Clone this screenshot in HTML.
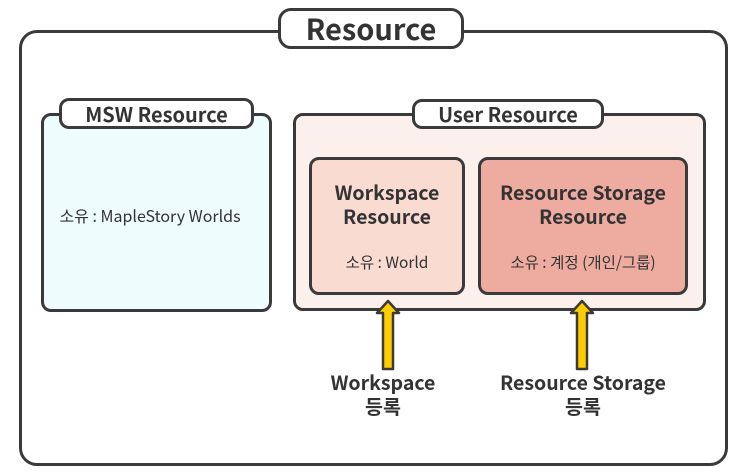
<!DOCTYPE html>
<html><head><meta charset="utf-8"><style>
body{margin:0;width:750px;height:476px;background:#fff;position:relative;overflow:hidden;font-family:"Noto Sans CJK KR","Liberation Sans",sans-serif;color:#333}
.b{position:absolute;box-sizing:border-box;border:3px solid #3a3a3a}
.pill{position:absolute;box-sizing:border-box;border:3px solid #3a3a3a;background:#fff;display:flex;align-items:center;justify-content:center;font-weight:bold;line-height:1}
.t{position:absolute;text-align:center;white-space:nowrap}
</style></head><body>
<div class="b" style="left:19px;top:30px;width:709px;height:436px;border-radius:18px"></div>
<div class="pill" style="left:278px;top:8px;width:186px;height:41px;border-radius:13px;font-size:29px">Resource</div>

<div class="b" style="left:41px;top:113px;width:231px;height:199px;border-radius:10px;background:#eefcfd"></div>
<div class="pill" style="left:59px;top:98px;width:195px;height:31px;border-radius:10px;font-size:20px">MSW Resource</div>
<div class="t" style="left:41px;width:218px;top:204px;font-size:16px;line-height:22px">소유 : MapleStory Worlds</div>

<div class="b" style="left:293px;top:113px;width:413px;height:198px;border-radius:10px;background:#fcf0ec"></div>
<div class="pill" style="left:412px;top:99px;width:192px;height:30px;border-radius:10px;font-size:20px">User Resource</div>

<div class="b" style="left:309px;top:157px;width:156px;height:138px;border-radius:10px;background:#f9dbd1"></div>
<div class="t" style="left:309px;width:156px;top:180px;font-size:19.5px;font-weight:bold;line-height:24px">Workspace<br>Resource</div>
<div class="t" style="left:309px;width:156px;top:251px;font-size:15.5px;line-height:22px">소유 : World</div>

<div class="b" style="left:478px;top:157px;width:210px;height:138px;border-radius:10px;background:#eeaca0"></div>
<div class="t" style="left:478px;width:210px;top:180px;font-size:19.5px;font-weight:bold;line-height:24px">Resource Storage<br>Resource</div>
<div class="t" style="left:478px;width:210px;top:251px;font-size:15.5px;line-height:22px">소유 : 계정 (개인/그룹)</div>

<svg style="position:absolute;left:0;top:0" width="750" height="476">
<g fill="#ffcc00" stroke="#3a3a3a" stroke-width="2.5" stroke-linejoin="round">
<path d="M383,369 L383,313 L377,313 L388,301 L399,313 L393,313 L393,369 Z"/>
<path d="M577,369 L577,313 L571,313 L582,301 L593,313 L587,313 L587,369 Z"/>
</g></svg>
<div class="t" style="left:278px;width:210px;top:370px;font-size:19.5px;font-weight:bold;line-height:24px">Workspace<br>등록</div>
<div class="t" style="left:478px;width:210px;top:370px;font-size:19.5px;font-weight:bold;line-height:24px">Resource Storage<br>등록</div>
</body></html>
